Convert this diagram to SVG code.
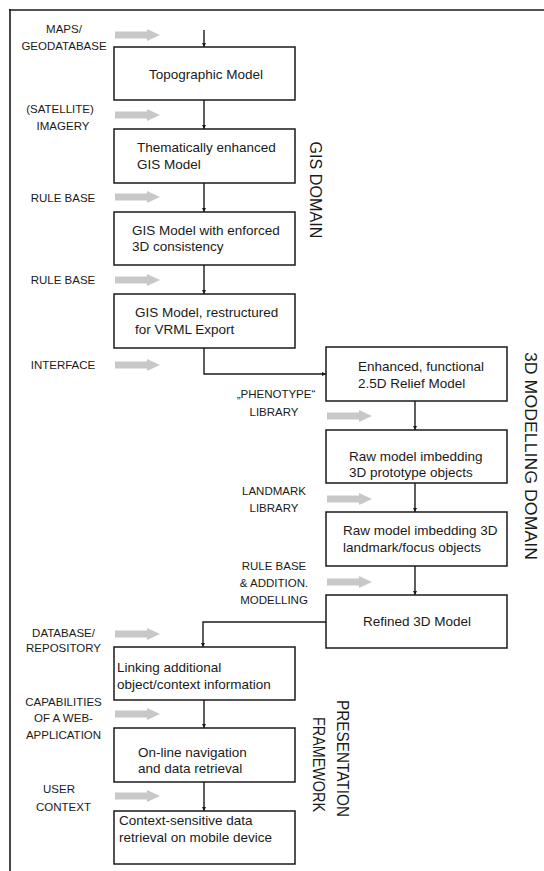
<svg xmlns="http://www.w3.org/2000/svg" width="544" height="871" viewBox="0 0 544 871">
<style>
.box{fill:#fff;stroke:#1a1a1a;stroke-width:1.5}
.bt{font-family:"Liberation Sans",Arial,sans-serif;font-size:13.5px;fill:#1a1a1a}
.lb{font-family:"Liberation Sans",Arial,sans-serif;font-size:11.5px;fill:#1a1a1a;text-anchor:middle}
.tt{font-family:"Liberation Sans",Arial,sans-serif;font-size:16px;fill:#1a1a1a;text-anchor:middle}
.con{fill:none;stroke:#1a1a1a;stroke-width:1.4;marker-end:url(#ah)}
.ga{fill:#c8c8c8}
</style>
<defs>
<marker id="ah" viewBox="0 0 6 6" refX="6" refY="3" markerWidth="4" markerHeight="4" markerUnits="userSpaceOnUse" orient="auto">
<path d="M0,0 L6,3 L0,6 z" fill="#1a1a1a"/>
</marker>
<polygon id="garrow" points="0,-3.6 32,-3.6 32,-6 45,0 32,6 32,3.6 0,3.6"/>
</defs>
<rect width="544" height="871" fill="#fff"/>
<g id="frame" stroke="#1a1a1a" stroke-width="1.6">
<line x1="9" y1="10" x2="544" y2="10"/>
<line x1="10" y1="9" x2="10" y2="871"/>
</g>

<g id="connectors">
<path class="con" d="M204,30 V47"/>
<path class="con" d="M204,100 V129"/>
<path class="con" d="M204,183 V212"/>
<path class="con" d="M204,265 V294"/>
<path class="con" d="M204,348 V374 H326"/>
<path class="con" d="M415,401 V430"/>
<path class="con" d="M415,483 V512"/>
<path class="con" d="M415,566 V595"/>
<path class="con" d="M326,622 H203 V647"/>
<path class="con" d="M204,700 V728"/>
<path class="con" d="M204,782 V811"/>
</g>

<g id="inputs" class="ga">
<use href="#garrow" x="115" y="35"/>
<use href="#garrow" x="115" y="115"/>
<use href="#garrow" x="115" y="197"/>
<use href="#garrow" x="115" y="280"/>
<use href="#garrow" x="115" y="365"/>
<use href="#garrow" x="327" y="416"/>
<use href="#garrow" x="327" y="499"/>
<use href="#garrow" x="327" y="582"/>
<use href="#garrow" x="115" y="634"/>
<use href="#garrow" x="115" y="714"/>
<use href="#garrow" x="115" y="796"/>
</g>

<g id="input-labels">
<text class="lb" x="64" y="33">MAPS/</text>
<text class="lb" x="64" y="50">GEODATABASE</text>
<text class="lb" x="60" y="113">(SATELLITE)</text>
<text class="lb" x="63" y="130">IMAGERY</text>
<text class="lb" x="63" y="201.5">RULE BASE</text>
<text class="lb" x="63" y="284">RULE BASE</text>
<text class="lb" x="63" y="369">INTERFACE</text>
<text class="lb" x="276" y="398">„PHENOTYPE“</text>
<text class="lb" x="274" y="416">LIBRARY</text>
<text class="lb" x="274" y="495">LANDMARK</text>
<text class="lb" x="274" y="512">LIBRARY</text>
<text class="lb" x="274" y="570">RULE BASE</text>
<text class="lb" x="274" y="587">&amp; ADDITION.</text>
<text class="lb" x="274" y="604">MODELLING</text>
<text class="lb" x="63.5" y="637">DATABASE/</text>
<text class="lb" x="63.5" y="652">REPOSITORY</text>
<text class="lb" x="63.5" y="705.5">CAPABILITIES</text>
<text class="lb" x="63.5" y="722">OF A WEB-</text>
<text class="lb" x="63.5" y="739">APPLICATION</text>
<text class="lb" x="59" y="793">USER</text>
<text class="lb" x="63.5" y="810.5">CONTEXT</text>
</g>

<g id="n1"><rect class="box" x="114" y="47" width="181" height="53"/><text class="bt" x="206" y="78.5" text-anchor="middle">Topographic Model</text></g>
<g id="n2"><rect class="box" x="114" y="129" width="181" height="54"/><text class="bt" x="137" y="152">Thematically enhanced</text><text class="bt" x="137" y="169">GIS Model</text></g>
<g id="n3"><rect class="box" x="114" y="212" width="181" height="53"/><text class="bt" x="132" y="234.5">GIS Model with enforced</text><text class="bt" x="132" y="251">3D consistency</text></g>
<g id="n4"><rect class="box" x="114" y="294" width="181" height="54"/><text class="bt" x="135" y="317">GIS Model, restructured</text><text class="bt" x="135" y="334">for VRML Export</text></g>
<g id="n5"><rect class="box" x="326" y="347" width="181" height="54"/><text class="bt" x="358" y="371">Enhanced, functional</text><text class="bt" x="358" y="387.5">2.5D Relief Model</text></g>
<g id="n6"><rect class="box" x="326" y="430" width="181" height="53"/><text class="bt" x="349" y="461">Raw model imbedding</text><text class="bt" x="349" y="477">3D prototype objects</text></g>
<g id="n7"><rect class="box" x="326" y="512" width="181" height="54"/><text class="bt" x="343" y="535">Raw model imbedding 3D</text><text class="bt" x="343" y="552">landmark/focus objects</text></g>
<g id="n8"><rect class="box" x="326" y="595" width="181" height="53"/><text class="bt" x="417" y="626" text-anchor="middle">Refined 3D Model</text></g>
<g id="n9"><rect class="box" x="114" y="647" width="181" height="53"/><text class="bt" x="117" y="672">Linking additional</text><text class="bt" x="117" y="688.5">object/context information</text></g>
<g id="n10"><rect class="box" x="114" y="728" width="181" height="54"/><text class="bt" x="138" y="757">On-line navigation</text><text class="bt" x="138" y="773">and data retrieval</text></g>
<g id="n11"><rect class="box" x="114" y="811" width="181" height="53"/><text class="bt" x="119" y="825">Context-sensitive data</text><text class="bt" x="119" y="841.5">retrieval on mobile device</text></g>

<g id="domains">
<text class="tt" transform="translate(310,190) rotate(90)" textLength="97" lengthAdjust="spacingAndGlyphs">GIS DOMAIN</text>
<text class="tt" transform="translate(525,456) rotate(90)" textLength="208" lengthAdjust="spacingAndGlyphs">3D MODELLING DOMAIN</text>
<text class="tt" transform="translate(337,758.5) rotate(90)" textLength="117" lengthAdjust="spacingAndGlyphs">PRESENTATION</text>
<text class="tt" transform="translate(313,764.5) rotate(90)" textLength="95" lengthAdjust="spacingAndGlyphs">FRAMEWORK</text>
</g>
</svg>
